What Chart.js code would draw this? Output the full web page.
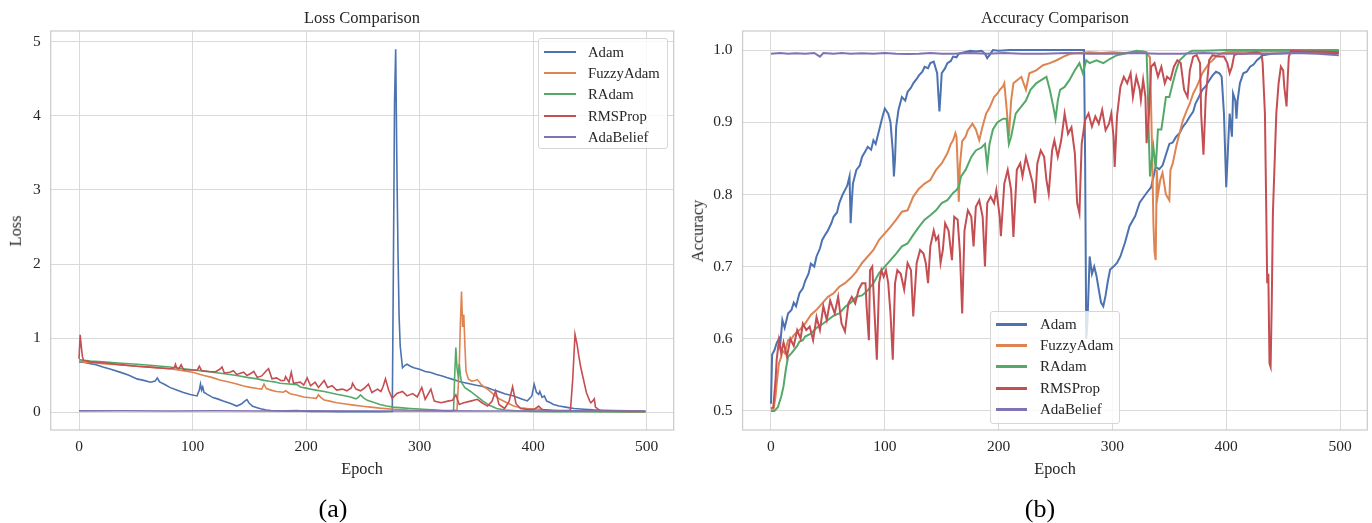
<!DOCTYPE html>
<html>
<head>
<meta charset="utf-8">
<script src="https://cdn.jsdelivr.net/npm/chart.js@4.4.1/dist/chart.umd.min.js"></script>
<style>
  html, body { margin: 0; padding: 0; background: #fff; }
  #page { position: relative; width: 1372px; height: 523px; overflow: hidden; font-family: 'Liberation Serif', 'Times New Roman', serif; color: #262626; }
  .panel { position: absolute; top: 0; }
  .txt { position: absolute; white-space: nowrap; transform: translate(-50%, -50%); line-height: 1; }
  .ylab { transform: translate(-50%, -50%) rotate(-90deg); }
  .legend { position: absolute; box-sizing: border-box; border: 1px solid #d6d6d6; border-radius: 3px; background: rgba(255,255,255,0.8); }
  .row { position: absolute; left: 0; height: 0; }
  .row i { position: absolute; display: block; }
  .row span { position: absolute; white-space: nowrap; transform: translateY(-50%); line-height: 1; }
</style>
</head>
<body>
<div id="page">
  <div class="panel" style="left:0;width:690px;height:523px"><canvas id="lossChart" width="690" height="523"></canvas></div>
  <div class="panel" style="left:690px;width:682px;height:523px"><canvas id="accChart" width="682" height="523"></canvas></div>

  <div class="txt" style="left:362px;top:18px;font-size:16.5px">Loss Comparison</div>
  <div class="txt" style="left:1055px;top:18px;font-size:16.5px">Accuracy Comparison</div>
  <div class="txt ylab" style="left:16px;top:231px;font-size:16.3px">Loss</div>
  <div class="txt ylab" style="left:698px;top:231px;font-size:16.3px">Accuracy</div>
  <div class="txt" style="left:362px;top:469px;font-size:16.3px">Epoch</div>
  <div class="txt" style="left:1055px;top:469px;font-size:16.3px">Epoch</div>
  <div class="txt" style="left:333px;top:509px;font-size:26px;color:#000">(a)</div>
  <div class="txt" style="left:1040px;top:509px;font-size:26px;color:#000">(b)</div>

  <div id="lossLegend" class="legend" style="left:538px;top:38px;width:130px;height:111px"></div>
  <div id="accLegend" class="legend" style="left:990px;top:311px;width:130px;height:113px"></div>
</div>

<script>
// ---- data (epoch, value) ----
const seriesNames = ['Adam', 'FuzzyAdam', 'RAdam', 'RMSProp', 'AdaBelief'];
const seriesColors = ['#4c72b0', '#dd8452', '#55a868', '#c44e52', '#8172b3'];

const epochTicks = [0, 100, 200, 300, 400, 500];
const lossTicks = [0, 1, 2, 3, 4, 5];
const accTicks = [0.5, 0.6, 0.7, 0.8, 0.9, 1.0];

const lossAdam = [[0,0.68],[5,0.67],[10,0.656],[15,0.64],[21,0.61],[28,0.58],[36,0.541],[44,0.5],[51,0.45],[57,0.43],[63,0.404],[67,0.42],[69,0.463],[71,0.41],[76,0.37],[80,0.335],[86,0.3],[92,0.266],[98,0.24],[104,0.22],[106,0.3],[107,0.38],[108,0.3],[109,0.34],[110,0.27],[113,0.24],[118,0.197],[122,0.18],[127,0.151],[133,0.12],[139,0.083],[143,0.11],[146,0.15],[148,0.17],[150,0.12],[153,0.08],[157,0.06],[160,0.046],[165,0.03],[169,0.023],[176,0.02],[183,0.018],[192,0.022],[198,0.015],[204,0.012],[215,0.01],[230,0.008],[250,0.008],[265,0.007],[276,0.01],[277,2.0],[278,4.2],[279,4.9],[280,3.4],[281,2.2],[282,1.3],[283,0.89],[285,0.6],[287,0.63],[289,0.647],[292,0.62],[295,0.6],[300,0.58],[305,0.55],[310,0.535],[315,0.51],[320,0.49],[324,0.467],[330,0.44],[335,0.415],[339,0.4],[345,0.38],[350,0.365],[354,0.355],[360,0.33],[365,0.3],[368,0.288],[375,0.25],[383,0.22],[390,0.18],[395,0.153],[399,0.22],[401,0.377],[403,0.27],[405,0.24],[406,0.28],[408,0.2],[410,0.22],[412,0.15],[415,0.13],[418,0.105],[423,0.083],[430,0.065],[436,0.05],[445,0.04],[453,0.032],[462,0.027],[471,0.023],[485,0.018],[499,0.014]];
const lossFuzzy = [[0,0.69],[5,0.675],[10,0.67],[21,0.656],[35,0.64],[51,0.62],[65,0.605],[80,0.587],[90,0.565],[100,0.54],[110,0.495],[117,0.47],[124,0.436],[131,0.41],[139,0.38],[145,0.355],[151,0.335],[157,0.32],[161,0.312],[163,0.38],[165,0.32],[170,0.295],[174,0.28],[180,0.27],[182,0.289],[186,0.25],[192,0.23],[198,0.206],[204,0.195],[209,0.188],[211,0.234],[213,0.2],[216,0.165],[221,0.15],[227,0.128],[235,0.11],[242,0.096],[250,0.08],[257,0.069],[265,0.055],[277,0.041],[290,0.03],[307,0.023],[320,0.02],[327,0.018],[333,0.03],[335,0.6],[336,1.2],[337,1.63],[338,1.15],[339,1.32],[340,0.9],[341,0.55],[343,0.45],[346,0.42],[349,0.427],[351,0.44],[354,0.38],[357,0.34],[360,0.31],[365,0.243],[371,0.174],[377,0.128],[383,0.083],[389,0.06],[395,0.05],[406,0.04],[415,0.025],[424,0.02],[440,0.015],[460,0.012],[480,0.01],[499,0.008]];
const lossRAdam = [[0,0.71],[4,0.7],[10,0.69],[21,0.68],[35,0.665],[51,0.647],[65,0.63],[80,0.61],[90,0.59],[100,0.573],[110,0.555],[118,0.54],[128,0.52],[139,0.495],[148,0.47],[157,0.45],[163,0.43],[168,0.417],[172,0.41],[177,0.39],[185,0.38],[192,0.372],[195,0.34],[200,0.325],[204,0.312],[210,0.295],[216,0.28],[222,0.26],[227,0.243],[233,0.225],[239,0.206],[244,0.18],[246,0.2],[248,0.234],[251,0.19],[254,0.16],[260,0.13],[265,0.105],[271,0.085],[277,0.069],[285,0.058],[292,0.05],[300,0.043],[307,0.037],[315,0.03],[321,0.023],[327,0.022],[330,0.025],[331,0.5],[332,0.872],[333,0.6],[334,0.49],[335,0.65],[336,0.5],[337,0.4],[340,0.33],[345,0.28],[350,0.22],[356,0.15],[362,0.09],[368,0.05],[375,0.03],[385,0.02],[400,0.012],[420,0.008],[450,0.006],[480,0.005],[499,0.005]];
const lossRMSProp = [[0,0.72],[1,1.045],[2,0.885],[3,0.75],[4,0.7],[10,0.68],[21,0.668],[36,0.642],[51,0.62],[65,0.605],[80,0.587],[84,0.6],[85,0.647],[86,0.6],[88,0.587],[90,0.64],[92,0.575],[100,0.57],[104,0.564],[106,0.62],[108,0.56],[115,0.55],[120,0.545],[124,0.58],[126,0.61],[128,0.53],[133,0.54],[136,0.56],[139,0.51],[145,0.54],[148,0.495],[152,0.53],[154,0.55],[157,0.47],[161,0.49],[165,0.56],[167,0.587],[170,0.45],[174,0.463],[178,0.427],[181,0.43],[182,0.48],[185,0.405],[187,0.54],[189,0.39],[195,0.405],[198,0.367],[201,0.463],[204,0.357],[208,0.405],[211,0.335],[214,0.39],[216,0.427],[219,0.335],[223,0.357],[227,0.298],[232,0.312],[236,0.289],[240,0.33],[241,0.39],[244,0.312],[248,0.289],[251,0.32],[255,0.38],[258,0.266],[263,0.312],[266,0.28],[268,0.35],[270,0.45],[273,0.289],[276,0.188],[280,0.252],[285,0.28],[289,0.22],[294,0.252],[298,0.206],[302,0.335],[305,0.174],[310,0.312],[313,0.15],[319,0.128],[325,0.15],[329,0.16],[332,0.234],[335,0.105],[339,0.128],[345,0.15],[351,0.174],[355,0.128],[360,0.083],[364,0.15],[367,0.289],[370,0.105],[375,0.05],[379,0.15],[382,0.344],[385,0.115],[389,0.05],[395,0.037],[401,0.037],[405,0.083],[408,0.037],[419,0.023],[431,0.023],[433,0.03],[435,0.45],[437,1.05],[439,0.9],[440,0.79],[442,0.61],[445,0.404],[447,0.266],[450,0.15],[451,0.128],[453,0.16],[454,0.18],[455,0.07],[459,0.023],[470,0.015],[485,0.012],[499,0.01]];
const lossAdaBelief = [[0,0.018],[40,0.02],[80,0.017],[120,0.019],[160,0.017],[200,0.018],[240,0.016],[280,0.017],[320,0.018],[360,0.016],[400,0.017],[440,0.018],[480,0.017],[499,0.017]];

const accAdam = [[0,0.51],[1,0.578],[3,0.584],[5,0.594],[7,0.6],[8,0.59],[10,0.626],[12,0.615],[15,0.635],[18,0.64],[20,0.65],[22,0.645],[25,0.663],[28,0.67],[30,0.68],[33,0.69],[35,0.704],[38,0.7],[40,0.714],[43,0.725],[45,0.737],[48,0.745],[50,0.75],[53,0.76],[55,0.769],[58,0.775],[60,0.788],[63,0.8],[65,0.806],[67,0.812],[69,0.825],[70,0.76],[71,0.79],[72,0.815],[75,0.834],[78,0.84],[80,0.852],[83,0.86],[85,0.866],[88,0.862],[90,0.875],[92,0.87],[95,0.889],[98,0.908],[100,0.919],[103,0.912],[105,0.9],[107,0.86],[108,0.825],[109,0.85],[110,0.894],[112,0.917],[115,0.935],[118,0.93],[120,0.942],[123,0.948],[125,0.954],[128,0.96],[130,0.965],[133,0.97],[135,0.977],[138,0.975],[140,0.982],[143,0.984],[146,0.968],[147,0.94],[148,0.915],[149,0.94],[150,0.968],[153,0.975],[155,0.982],[158,0.985],[160,0.991],[163,0.99],[165,0.995],[170,0.997],[175,0.999],[180,0.998],[185,0.999],[188,0.995],[190,0.989],[192,0.993],[195,1.0],[200,0.999],[210,1.0],[220,1.0],[240,1.0],[260,1.0],[275,1.0],[276,0.85],[277,0.6],[278,0.62],[280,0.714],[282,0.69],[284,0.7],[286,0.687],[288,0.668],[290,0.65],[292,0.645],[294,0.66],[296,0.68],[298,0.696],[301,0.7],[304,0.705],[307,0.714],[311,0.733],[315,0.756],[320,0.77],[324,0.789],[330,0.802],[334,0.81],[338,0.838],[341,0.835],[344,0.84],[347,0.855],[350,0.87],[353,0.872],[356,0.88],[359,0.885],[362,0.894],[365,0.9],[368,0.908],[371,0.915],[373,0.926],[376,0.935],[379,0.945],[382,0.95],[385,0.958],[388,0.965],[391,0.97],[394,0.968],[396,0.963],[398,0.912],[400,0.81],[402,0.88],[403,0.912],[405,0.88],[406,0.94],[408,0.93],[409,0.905],[410,0.93],[412,0.954],[415,0.968],[418,0.97],[421,0.977],[424,0.98],[427,0.986],[430,0.99],[432,0.993],[440,0.995],[460,0.996],[480,0.996],[499,0.996]];
const accFuzzy = [[0,0.501],[2,0.5],[4,0.52],[5,0.538],[7,0.566],[9,0.575],[10,0.584],[12,0.58],[15,0.598],[18,0.6],[20,0.605],[25,0.612],[30,0.621],[35,0.633],[40,0.64],[45,0.649],[50,0.658],[55,0.663],[60,0.672],[65,0.677],[70,0.684],[75,0.693],[80,0.705],[85,0.714],[90,0.723],[95,0.737],[100,0.746],[105,0.755],[110,0.765],[115,0.776],[120,0.778],[125,0.797],[130,0.808],[135,0.815],[140,0.82],[145,0.834],[150,0.843],[155,0.857],[158,0.87],[160,0.875],[162,0.885],[163,0.88],[164,0.84],[165,0.79],[166,0.84],[168,0.874],[171,0.88],[173,0.889],[177,0.898],[180,0.89],[183,0.875],[186,0.895],[189,0.912],[192,0.92],[196,0.935],[199,0.94],[201,0.945],[204,0.95],[205,0.954],[207,0.92],[209,0.88],[211,0.93],[213,0.954],[216,0.958],[220,0.963],[224,0.945],[227,0.968],[233,0.972],[239,0.979],[245,0.982],[251,0.986],[257,0.991],[263,0.995],[270,0.996],[280,0.997],[290,0.996],[300,0.997],[310,0.996],[320,0.997],[330,0.996],[333,0.99],[335,0.85],[336,0.76],[337,0.72],[338,0.709],[339,0.834],[340,0.8],[342,0.82],[344,0.83],[347,0.8],[350,0.792],[351,0.834],[353,0.843],[356,0.866],[359,0.885],[362,0.903],[365,0.915],[368,0.926],[371,0.94],[374,0.949],[377,0.96],[379,0.968],[382,0.975],[385,0.982],[388,0.986],[391,0.991],[395,0.995],[400,0.997],[420,0.998],[440,0.998],[460,0.998],[480,0.998],[499,0.998]];
const accRAdam = [[0,0.5],[3,0.5],[6,0.505],[9,0.52],[11,0.534],[13,0.557],[15,0.575],[18,0.58],[20,0.584],[23,0.59],[25,0.596],[28,0.598],[30,0.603],[35,0.607],[40,0.615],[45,0.62],[50,0.626],[55,0.632],[60,0.635],[65,0.644],[70,0.65],[75,0.658],[80,0.66],[85,0.667],[90,0.677],[95,0.691],[100,0.7],[105,0.709],[110,0.718],[115,0.728],[120,0.732],[125,0.744],[130,0.755],[135,0.765],[140,0.771],[145,0.778],[150,0.788],[155,0.792],[160,0.802],[163,0.806],[165,0.811],[167,0.825],[171,0.834],[176,0.852],[180,0.861],[185,0.865],[188,0.87],[190,0.839],[192,0.87],[195,0.89],[199,0.9],[204,0.905],[207,0.905],[209,0.87],[211,0.88],[215,0.912],[220,0.922],[224,0.93],[228,0.945],[233,0.954],[237,0.958],[242,0.963],[245,0.945],[248,0.922],[250,0.905],[252,0.93],[254,0.945],[258,0.949],[262,0.958],[267,0.972],[271,0.982],[274,0.968],[277,0.986],[280,0.982],[286,0.986],[292,0.982],[298,0.988],[304,0.993],[310,0.995],[316,0.997],[321,0.999],[327,0.998],[330,0.997],[331,0.95],[332,0.88],[333,0.825],[334,0.84],[336,0.866],[338,0.835],[340,0.89],[343,0.89],[345,0.912],[347,0.935],[350,0.935],[353,0.954],[356,0.972],[359,0.986],[365,0.995],[370,0.999],[380,0.999],[400,1.0],[430,1.0],[460,1.0],[499,1.0]];
const accRMSProp = [[0,0.503],[2,0.505],[4,0.543],[5,0.571],[7,0.598],[9,0.58],[11,0.595],[14,0.575],[17,0.6],[20,0.59],[23,0.612],[26,0.6],[28,0.621],[31,0.612],[34,0.617],[37,0.598],[40,0.63],[43,0.612],[46,0.645],[49,0.626],[52,0.653],[56,0.635],[59,0.658],[62,0.621],[65,0.61],[68,0.649],[71,0.658],[74,0.649],[77,0.668],[80,0.677],[83,0.677],[84,0.645],[86,0.598],[87,0.695],[89,0.7],[91,0.635],[93,0.571],[95,0.677],[97,0.695],[99,0.686],[101,0.695],[103,0.677],[105,0.635],[107,0.571],[109,0.677],[111,0.695],[114,0.69],[117,0.668],[120,0.705],[123,0.695],[125,0.631],[128,0.705],[131,0.723],[134,0.718],[136,0.705],[138,0.677],[140,0.728],[143,0.75],[145,0.737],[147,0.742],[149,0.705],[151,0.723],[153,0.76],[156,0.75],[159,0.709],[161,0.769],[164,0.765],[166,0.72],[168,0.635],[170,0.75],[173,0.778],[176,0.769],[178,0.728],[180,0.783],[183,0.792],[186,0.769],[188,0.7],[190,0.788],[193,0.797],[196,0.788],[198,0.806],[201,0.769],[202,0.742],[205,0.815],[208,0.834],[211,0.806],[213,0.741],[216,0.834],[219,0.843],[221,0.825],[224,0.852],[227,0.834],[230,0.815],[232,0.788],[234,0.843],[237,0.861],[240,0.852],[242,0.82],[244,0.801],[247,0.861],[249,0.875],[252,0.852],[255,0.875],[258,0.912],[261,0.884],[264,0.893],[267,0.857],[269,0.788],[271,0.774],[273,0.87],[276,0.903],[279,0.912],[282,0.894],[285,0.908],[288,0.898],[291,0.917],[294,0.889],[297,0.898],[299,0.912],[301,0.88],[302,0.838],[304,0.908],[307,0.949],[310,0.963],[313,0.954],[316,0.968],[318,0.935],[321,0.963],[324,0.945],[325,0.931],[327,0.959],[329,0.935],[330,0.871],[332,0.91],[334,0.977],[337,0.982],[340,0.963],[343,0.977],[346,0.954],[348,0.963],[351,0.959],[354,0.977],[357,0.986],[360,0.982],[363,0.945],[366,0.935],[368,0.972],[371,0.991],[374,0.993],[377,0.982],[378,0.91],[380,0.855],[382,0.935],[385,0.986],[388,0.993],[393,0.991],[396,0.991],[398,0.991],[401,0.982],[403,0.968],[405,0.977],[407,0.993],[410,0.995],[416,0.995],[421,0.996],[427,0.997],[431,0.995],[432,0.982],[434,0.912],[435,0.797],[436,0.677],[437,0.69],[438,0.566],[439,0.561],[440,0.65],[441,0.774],[443,0.866],[444,0.912],[446,0.954],[448,0.977],[450,0.972],[451,0.949],[453,0.922],[454,0.96],[455,0.991],[457,0.999],[470,0.998],[485,0.998],[499,0.997]];
const accAdaBelief = [[0,0.995],[8,0.996],[15,0.995],[22,0.9955],[30,0.995],[38,0.996],[43,0.991],[46,0.996],[55,0.995],[62,0.996],[70,0.995],[80,0.9955],[90,0.995],[100,0.996],[110,0.995],[120,0.9945],[130,0.995],[140,0.996],[150,0.995],[160,0.995],[175,0.996],[190,0.995],[205,0.996],[220,0.995],[240,0.995],[260,0.996],[280,0.995],[300,0.995],[320,0.996],[340,0.995],[360,0.995],[380,0.996],[400,0.995],[420,0.995],[440,0.995],[460,0.996],[480,0.995],[499,0.993]];

const lossSeries = [lossAdam, lossFuzzy, lossRAdam, lossRMSProp, lossAdaBelief];
const accSeries = [accAdam, accFuzzy, accRAdam, accRMSProp, accAdaBelief];

const FONT = "'Liberation Serif', 'Times New Roman', serif";
const GRID = '#d9d9d9';

// frame around the plot area, like the matplotlib spines
const framePlugin = {
    id: 'frame',
    afterDatasetsDraw(chart) {
        const a = chart.chartArea;
        const ctx = chart.ctx;
        ctx.save();
        ctx.strokeStyle = '#cccccc';
        ctx.lineWidth = 1.25;
        ctx.strokeRect(a.left, a.top, a.right - a.left, a.bottom - a.top);
        ctx.restore();
    }
};

const buildChart = (canvasId, series, yTicks, yFmt, opts) => {
    const datasets = series.map((pts, i) => ({
        label: seriesNames[i],
        data: pts.map(p => ({ x: p[0], y: p[1] })),
        borderColor: seriesColors[i],
        backgroundColor: seriesColors[i],
        borderWidth: opts.lineWidth,
        pointRadius: 0,
        tension: 0,
        fill: false,
        order: series.length - 1 - i
    }));

    return new Chart(document.getElementById(canvasId), {
        type: 'line',
        data: { datasets },
        options: {
            responsive: false,
            animation: false,
            events: [],
            layout: { padding: { left: 0, top: 31, right: opts.padRight, bottom: 523 - 430 - 30 } },
            plugins: { legend: { display: false }, tooltip: { enabled: false }, title: { display: false } },
            scales: {
                x: {
                    type: 'linear',
                    min: -24.95,
                    max: 523.95,
                    afterBuildTicks: s => { s.ticks = epochTicks.map(v => ({ value: v })); },
                    afterFit: s => { s.height = 30; },
                    grid: { color: GRID, lineWidth: 1, drawTicks: false },
                    border: { display: false },
                    ticks: { font: { family: FONT, size: 15.5 }, color: '#262626', padding: 8, maxRotation: 0 }
                },
                y: {
                    type: 'linear',
                    min: opts.yMin,
                    max: opts.yMax,
                    afterBuildTicks: s => { s.ticks = yTicks.map(v => ({ value: v })); },
                    afterFit: s => { s.width = opts.yWidth; },
                    grid: { color: GRID, lineWidth: 1, drawTicks: false },
                    border: { display: false },
                    ticks: { font: { family: FONT, size: 15.5 }, color: '#262626', padding: 10, callback: yFmt }
                }
            }
        },
        plugins: [framePlugin]
    });
};

buildChart('lossChart', lossSeries, lossTicks, v => String(v),
    { lineWidth: 1.6, padRight: 16.3, yWidth: 50.7, yMin: -0.24, yMax: 5.145 });
buildChart('accChart', accSeries, accTicks, v => v.toFixed(1),
    { lineWidth: 2, padRight: 4.7, yWidth: 52.6, yMin: 0.4735, yMax: 1.0265 });

// legends (placed inside the axes as in the reference)
const fillLegend = (id, handleLeft, handleWidth, textLeft, firstRow, lineW, fontSize) => {
    const box = document.getElementById(id);
    seriesNames.forEach((name, i) => {
        const row = document.createElement('div');
        row.className = 'row';
        row.style.top = Math.round(firstRow + i * 21.2) + 'px';
        const h = document.createElement('i');
        h.style.left = handleLeft + 'px';
        h.style.width = handleWidth + 'px';
        h.style.height = lineW + 'px';
        h.style.top = (-Math.floor(lineW / 2)) + 'px';
        h.style.background = seriesColors[i];
        const t = document.createElement('span');
        t.style.left = textLeft + 'px';
        t.style.fontSize = fontSize + 'px';
        t.textContent = name;
        row.appendChild(h);
        row.appendChild(t);
        box.appendChild(row);
    });
};
fillLegend('lossLegend', 5, 32, 49, 13, 2, 14.7);
fillLegend('accLegend', 5, 31, 49, 12, 3, 15);
</script>
</body>
</html>
